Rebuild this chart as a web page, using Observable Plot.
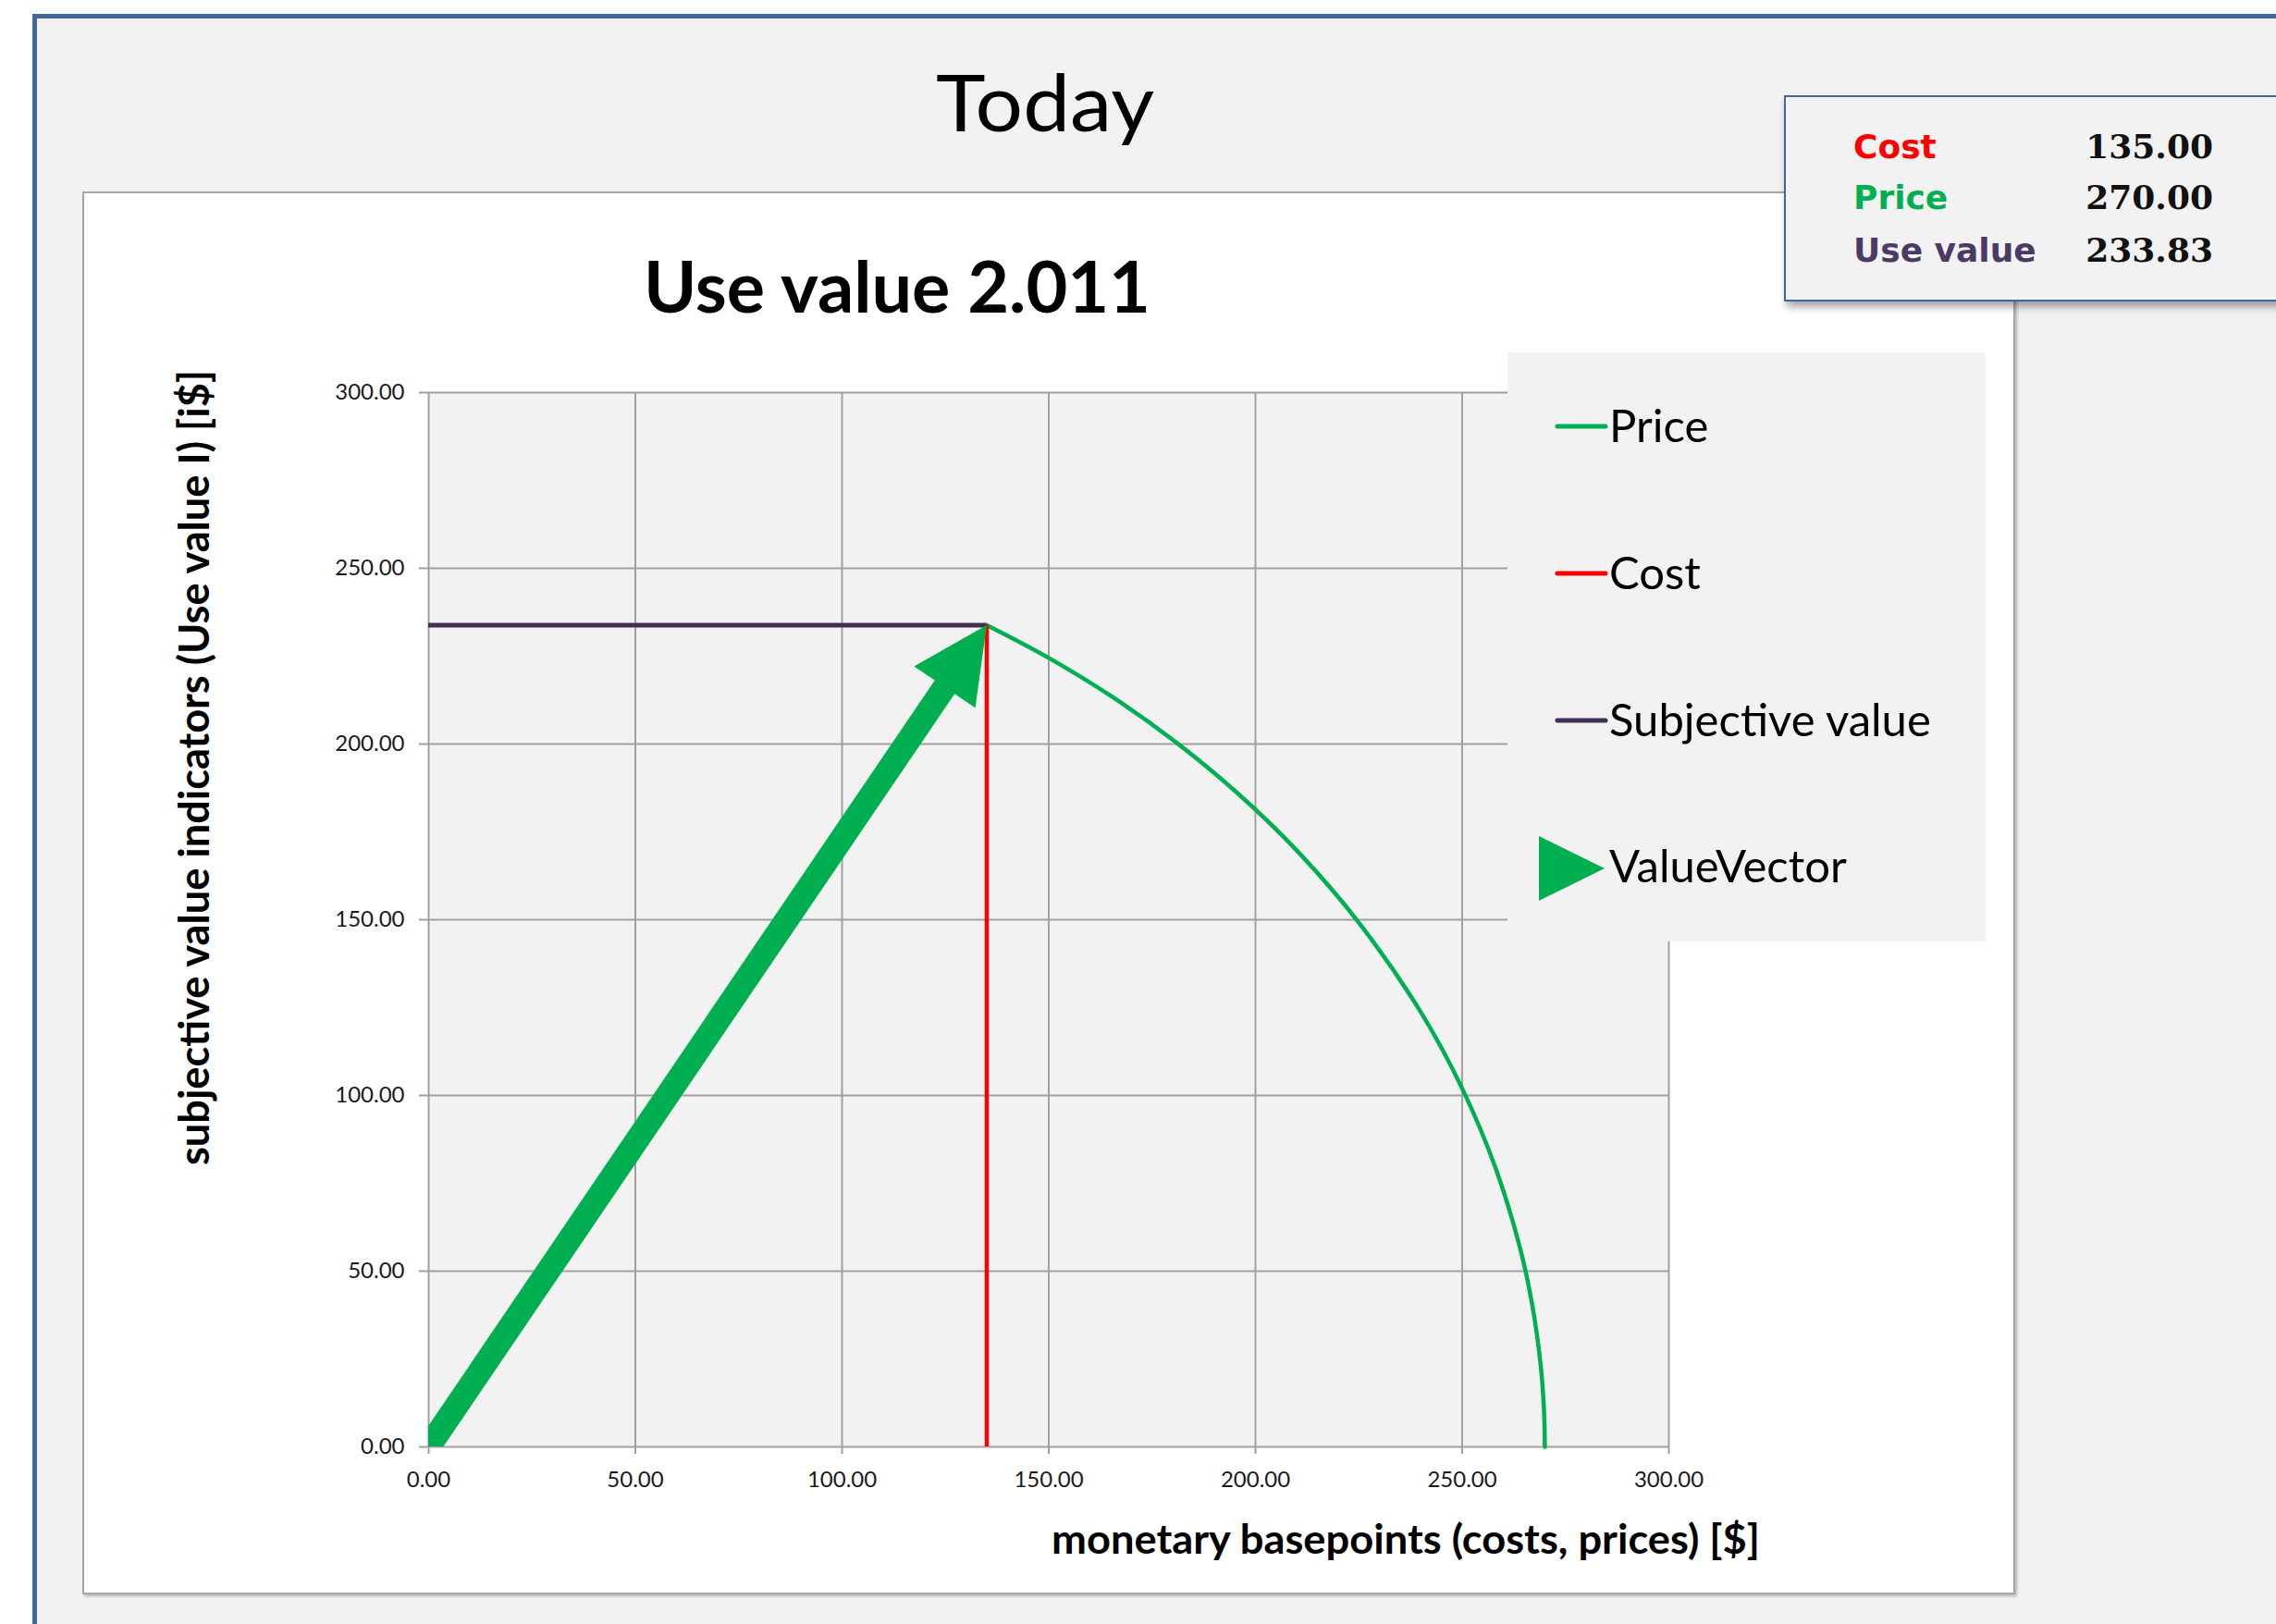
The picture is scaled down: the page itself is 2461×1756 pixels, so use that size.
<!DOCTYPE html>
<html>
<head>
<meta charset="utf-8">
<script src="https://cdn.jsdelivr.net/npm/d3@7"></script>
<script src="https://cdn.jsdelivr.net/npm/@observablehq/plot@0.6"></script>
<style>
  html, body { margin:0; padding:0; width:2461px; height:1756px; overflow:hidden; background:#ffffff; }
  #frame { position:absolute; left:35px; top:15px; width:2600px; height:1900px; background:#f2f2f2;
           border-left:5px solid #41669a; border-top:5px solid #41669a; box-sizing:border-box; }
  #chart { position:absolute; left:89px; top:207px; width:2086px; height:1513px; border:2px solid #a6a6a6;
           background:#ffffff; box-shadow: 2px 2px 3px rgba(0,0,0,0.25); }
  #chart svg { display:block; }
  #chart svg text { font-family: Lato, sans-serif; font-size: 24px; fill:#1a1a1a; }
  #chart svg g[aria-label="x-axis"] line, #chart svg g[aria-label="y-axis"] line,
  #chart svg g[aria-label="x-axis tick"] path, #chart svg g[aria-label="y-axis tick"] path { stroke:#a0a0a0; stroke-width:2px; }
  #overlay { position:absolute; left:0; top:0; pointer-events:none; }
</style>
</head>
<body>
<div id="frame"></div>
<div id="chart"></div>
<svg id="overlay" width="2461" height="1756" xmlns="http://www.w3.org/2000/svg">
  <defs>
    <filter id="sh" x="-5%" y="-10%" width="120%" height="140%">
      <feDropShadow dx="3" dy="6" stdDeviation="4" flood-color="#000" flood-opacity="0.35"/>
    </filter>
  </defs>
</svg>
<script>
// ---------------- data ----------------
const pageTitle = "Today";
const chartTitle = "Use value 2.011";
const xAxisTitle = "monetary basepoints (costs, prices) [$]";
const yAxisTitle = "subjective value indicators (Use value I) [i$]";
const xTickValues = [0, 50, 100, 150, 200, 250, 300];
const yTickValues = [0, 50, 100, 150, 200, 250, 300];
const costValue = 135.00;
const priceValue = 270.00;
const useValue = 233.83;
// Price curve
const priceCurveX = [135, 142, 150, 165, 180, 195, 210, 225, 240, 250, 258, 264, 267, 269, 269.8, 270];
const priceCurveY = [233.83, 229.6, 224.5, 213.7, 201.2, 186.7, 169.7, 149.2, 123.7, 102.0, 79.6, 56.6, 40.1, 23.2, 10.4, 0];
// ValueVector
const vectorStart = [0, 0];
const vectorEnd = [135, 233.83];
const legendLabels = ["Price", "Cost", "Subjective value", "ValueVector"];
const infoLabels = ["Cost", "Price", "Use value"];
const infoValues = [costValue, priceValue, useValue];

// ---------------- styles ----------------
const GREEN = "#00b050", RED = "#ff0000", PURPLE = "#403152", GRID = "#a0a0a0";

const priceCurve = priceCurveX.map((x, i) => ({x, y: priceCurveY[i]}));
const vec = [{x1: vectorStart[0], y1: vectorStart[1], x2: vectorEnd[0], y2: vectorEnd[1]}];
const fmt = d => d.toFixed(2);

const W = 2086, H = 1513;
function options(extra) {
  return {
    width: W, height: H,
    marginLeft: 372, marginRight: 373, marginTop: 215, marginBottom: 158,
    style: {background: "#ffffff", fontFamily: "Lato, sans-serif", fontSize: "24px", color: "#1a1a1a", overflow: "visible"},
    x: {domain: [xTickValues[0], xTickValues[xTickValues.length - 1]], ticks: xTickValues, tickFormat: fmt, tickSize: 8, tickPadding: 18, label: null},
    y: {domain: [yTickValues[0], yTickValues[yTickValues.length - 1]], ticks: yTickValues, tickFormat: fmt, tickSize: 10, tickPadding: 16, label: null},
    marks: [
      Plot.frame({fill: "#f2f2f2", stroke: "none"}),
      Plot.ruleX(xTickValues, {stroke: GRID, strokeWidth: 2}),
      Plot.ruleY(yTickValues, {stroke: GRID, strokeWidth: 2}),
      Plot.line(priceCurve, {x: "x", y: "y", stroke: GREEN, strokeWidth: 4.5, curve: "catmull-rom"}),
      Plot.ruleX([costValue], {y1: 0, y2: useValue, stroke: RED, strokeWidth: 4.5}),
      Plot.ruleY([useValue], {x1: 0, x2: costValue, stroke: PURPLE, strokeWidth: 5}),
      ...extra
    ]
  };
}

// first pass to read the library's scales (for the arrow head direction)
let ux = -0.562, uy = 0.827;
try {
  const p0 = Plot.plot(options([]));
  const sx = p0.scale("x"), sy = p0.scale("y");
  const fx = d3.scaleLinear(sx.domain, sx.range), fy = d3.scaleLinear(sy.domain, sy.range);
  const tx = fx(vec[0].x2), ty = fy(vec[0].y2), ox = fx(vec[0].x1), oy = fy(vec[0].y1);
  const len = Math.hypot(ox - tx, oy - ty);
  ux = (ox - tx) / len; uy = (oy - ty) / len;
} catch (e) {}
const headLen = 81, headHalf = 40;
const headSymbol = {
  draw(ctx) {
    const vx = -uy, vy = ux;
    ctx.moveTo(0, 0);
    ctx.lineTo(ux * headLen + vx * headHalf, uy * headLen + vy * headHalf);
    ctx.lineTo(ux * headLen - vx * headHalf, uy * headLen - vy * headHalf);
    ctx.closePath();
  }
};

const arrowMarks = [
  Plot.arrow(vec, {x1: "x1", y1: "y1", x2: "x2", y2: "y2", stroke: GREEN, strokeWidth: 26, headLength: 0,
                   insetEnd: 60, strokeLinecap: "butt", strokeLinejoin: "miter", clip: true}),
  Plot.dot(vec, {x: "x2", y: "y2", symbol: headSymbol, r: 10, fill: GREEN, stroke: "none"})
];
document.getElementById("chart").appendChild(Plot.plot(options(arrowMarks)));

// ---------------- overlay texts, legend, info box ----------------
const ov = d3.select("#overlay");
function txt(g, s, x, y, o = {}) {
  const t = g.append("text").attr("x", x).attr("y", y)
    .attr("font-family", o.family || "Lato, sans-serif")
    .attr("font-size", o.size || 24)
    .attr("font-weight", o.weight || 400)
    .attr("fill", o.fill || "#000")
    .attr("text-anchor", o.anchor || "start")
    .text(s);
  if (o.len) t.attr("textLength", o.len).attr("lengthAdjust", "spacingAndGlyphs");
  if (o.transform) t.attr("transform", o.transform);
  return t;
}
txt(ov, pageTitle, 1130, 142, {size: 86, weight: 400, anchor: "middle", len: 236});
txt(ov, chartTitle, 970, 338, {size: 77, weight: 700, anchor: "middle", len: 548});
txt(ov, xAxisTitle, 1520, 1680, {size: 44, weight: 700, anchor: "middle", len: 766});
txt(ov, yAxisTitle, 0, 0, {size: 45, weight: 700, anchor: "middle", len: 860, transform: "translate(226,830) rotate(-90)"});

// legend
const lg = ov.append("g").attr("transform", "translate(1630,381)");
lg.append("rect").attr("width", 517).attr("height", 637).attr("fill", "#f2f2f2");
const legendColors = [GREEN, RED, PURPLE, GREEN];
const legendBase = [97, 256, 415, 573];
legendLabels.forEach((lab, i) => {
  if (i < 3) {
    const cy = legendBase[i] - 17;
    lg.append("line").attr("x1", 54).attr("x2", 106).attr("y1", cy).attr("y2", cy)
      .attr("stroke", legendColors[i]).attr("stroke-width", 5).attr("stroke-linecap", "round");
  } else {
    lg.append("path").attr("d", "M34,523L105,558L34,593Z").attr("fill", legendColors[i]);
  }
  txt(lg, lab, 110, legendBase[i], {size: 49});
});

// info box
const ib = ov.append("g");
ib.append("rect").attr("x", 1930).attr("y", 104).attr("width", 700).attr("height", 221)
  .attr("fill", "#f2f2f2").attr("stroke", "#41669a").attr("stroke-width", 2).attr("filter", "url(#sh)");
const infoColors = [RED, GREEN, "#4b3a66"];
const infoBase = [171, 226, 283];
infoLabels.forEach((lab, i) => {
  txt(ib, lab, 2004, infoBase[i], {size: 36, weight: 700, family: "DejaVu Sans, sans-serif", fill: infoColors[i]});
  txt(ib, fmt(infoValues[i]), 2393, infoBase[i], {size: 36, weight: 700, family: "DejaVu Serif, serif", fill: "#111", anchor: "end"});
});
</script>
</body>
</html>
